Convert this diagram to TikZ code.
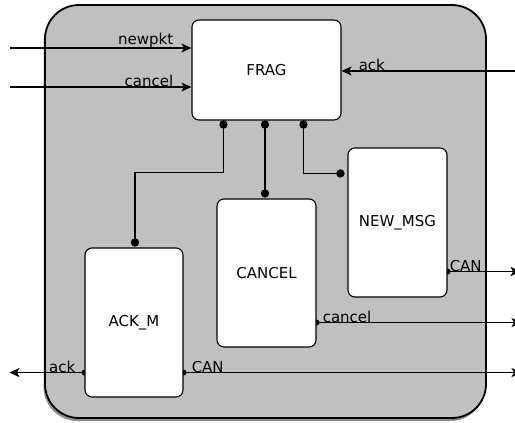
\documentclass[tikz,border=0pt]{standalone}
\usepackage{fontspec}
\setmainfont{DejaVu Sans}
\usetikzlibrary{arrows.meta,calc,shadows}
\pgfdeclarelayer{back}
\pgfdeclarelayer{mid}
\pgfsetlayers{back,mid,main}
\definecolor{boxgray}{RGB}{192,192,192}
\begin{document}
\begin{tikzpicture}[x=1pt,y=-1pt,
  font=\fontsize{15}{18}\selectfont,
  blk/.style={draw=black, line width=1.1pt, fill=white, rounded corners=7pt, inner sep=0pt},
  wire/.style={line width=1.7pt},
  arr/.style={wire,-{Stealth[length=10pt,width=9pt,inset=2.5pt]}},
  lbl/.style={inner sep=1pt},
  dotr/.style={fill=black}]
\useasboundingbox (0,0) rectangle (515,423);

\begin{pgfonlayer}{back}
\node[draw=black, line width=1.8pt, fill=boxgray, rounded corners=34pt,
  minimum width=441pt, minimum height=413pt, inner sep=0pt,
  drop shadow={shadow xshift=-1.5pt, shadow yshift=-3pt, opacity=0.55, fill=black!80}] (outer) at (265.5,211.5) {};
\end{pgfonlayer}

\node[blk, minimum width=149pt, minimum height=100pt] (FRAG) at (266.5,70) {FRAG};
\node[blk, minimum width=98pt, minimum height=149pt] (ACKM) at (134,322.5) {ACK\_M};
\node[blk, minimum width=99pt, minimum height=148pt] (CANCEL) at (266.5,273) {CANCEL};
\node[blk, minimum width=99pt, minimum height=149pt] (NEWMSG) at (397.5,222.5) {NEW\_MSG};

\coordinate (in1) at (10,48);
\coordinate (in2) at (10,87);
\coordinate (in3) at (515,71);

\coordinate (p1) at ($(FRAG.south west)+(32,4)$);
\coordinate (p2) at ($(FRAG.south)+(-1.5,4)$);
\coordinate (p3) at ($(FRAG.south west)+(112,4)$);
\coordinate (q1) at ($(ACKM.north)+(1,-5)$);
\coordinate (q2) at ($(p2 |- CANCEL.north)+(0,-5)$);
\coordinate (q3) at ($(NEWMSG.north west)+(-7,26)$);

\coordinate (o1) at ($(NEWMSG.south east)+(0,-26)$);
\coordinate (o2) at ($(CANCEL.south east)+(0,-25)$);
\coordinate (o3) at ($(ACKM.south east)+(0,-25)$);
\coordinate (o4) at ($(ACKM.south west)+(0,-25)$);

\begin{pgfonlayer}{mid}
\draw[arr] (in1) -- (FRAG.west |- in1);
\draw[arr] (in2) -- (FRAG.west |- in2);
\draw[arr] (in3) -- (FRAG.east |- in3);
\draw[wire] (p1) -- ++(0,48) -| (q1);
\draw[wire] (p2) -- (q2);
\draw[wire] (p3) |- (q3);
\draw[arr] (o1) -- ++(73,0);
\draw[arr] (o2) -- ++(205,0);
\draw[arr] (o3) -- ++(338,0);
\draw[arr] (o4) -- ++(-75,0);
\fill (o1) circle (3pt);
\fill (o2) circle (3pt);
\fill (o3) circle (3pt);
\fill (o4) circle (3pt);
\end{pgfonlayer}

\fill[dotr] (p1) circle (4.2pt);
\fill[dotr] (p2) circle (4.2pt);
\fill[dotr] (p3) circle (4.2pt);
\fill[dotr] (q1) circle (4.2pt);
\fill[dotr] (q2) circle (4.2pt);
\fill[dotr] (q3) circle (4.2pt);

\node[lbl, anchor=south east, xshift=-17pt, yshift=-1pt] (lnew) at (FRAG.west |- in1) {newpkt};
\node[lbl, anchor=south east, xshift=-17pt, yshift=-1pt] (lcan) at (FRAG.west |- in2) {cancel};
\node[lbl, anchor=south west, xshift=16pt, yshift=-1pt] (lack) at (FRAG.east |- in3) {ack};
\node[lbl, anchor=south west, xshift=1pt, yshift=-1pt] (lo1) at (o1) {CAN};
\node[lbl, anchor=south west, xshift=5pt, yshift=-1pt] (lo2) at (o2) {cancel};
\node[lbl, anchor=south west, xshift=7pt, yshift=-1pt] (lo3) at (o3) {CAN};
\node[lbl, anchor=south east, xshift=-8pt, yshift=-1pt] (lo4) at (o4) {ack};
\end{tikzpicture}
\end{document}
